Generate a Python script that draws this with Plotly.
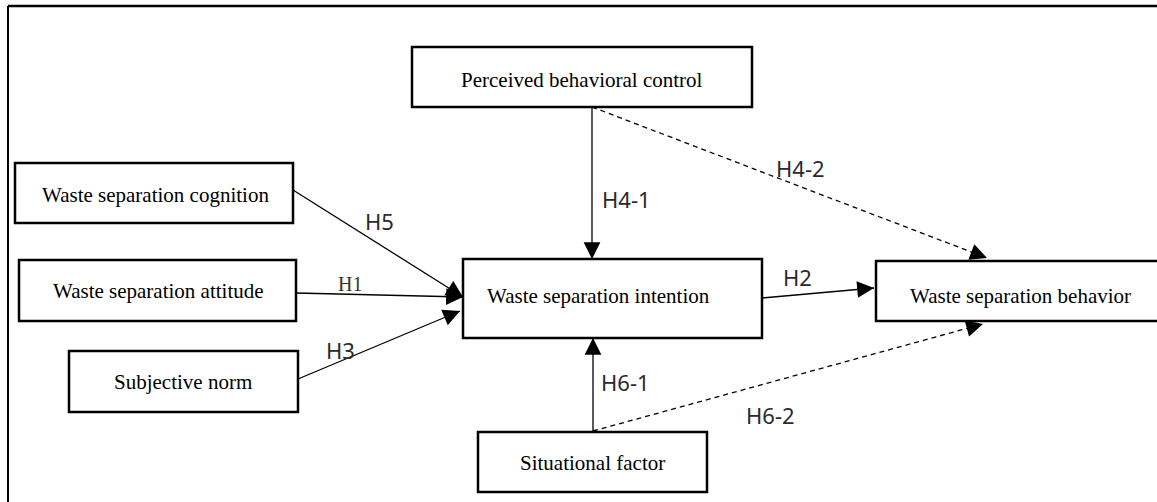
import math
import plotly.graph_objects as go

W, H = 1157, 502

# ---- nodes (box bounds in page pixels) ----
node_names = ["Perceived behavioral control", "Waste separation cognition",
              "Waste separation attitude", "Subjective norm",
              "Waste separation intention", "Situational factor",
              "Waste separation behavior"]
node_x0 = [412, 15, 19, 69, 463, 478, 876]
node_x1 = [752, 293, 296, 298, 762, 707, 1165]
node_y0 = [47, 163, 260, 351, 259, 432, 261]
node_y1 = [107, 223, 321, 412, 338, 492, 321]
text_x = [582, 155, 158, 183, 598, 592, 1020]
text_y = [80, 195, 291, 382, 296, 463, 296]

# ---- edges ----
edge_labels = ["H5", "H1", "H3", "H4-1", "H4-2", "H2", "H6-1", "H6-2"]
edge_x0 = [293, 296, 298, 592, 592, 762, 593, 593]
edge_y0 = [190, 293, 379, 107, 107, 298, 432, 431]
edge_x1 = [463, 463, 460, 592, 987, 874, 593, 983]
edge_y1 = [297, 297, 311, 259, 258, 288, 338, 324]
edge_dashed = [False, False, False, False, True, False, False, True]
label_x = [379, 350, 340, 626, 800, 797, 625, 770]
label_y = [221, 284, 350, 199, 168, 277, 382, 415]

fig = go.Figure()

# frame (top and left lines)
fig.add_shape(type="line", x0=8, y0=6, x1=W + 10, y1=6, line=dict(color="black", width=2.5))
fig.add_shape(type="line", x0=8, y0=6, x1=8, y1=H + 10, line=dict(color="black", width=2))

# boxes and node text
for name, x0, x1, y0, y1, tx, ty in zip(node_names, node_x0, node_x1, node_y0, node_y1, text_x, text_y):
    fig.add_shape(type="rect", x0=x0, x1=x1, y0=y0, y1=y1,
                  line=dict(color="black", width=2.5), fillcolor="white")
    fig.add_annotation(x=tx, y=ty, text=name, showarrow=False,
                       font=dict(family="Liberation Serif", size=21, color="black"))

# edges
for lab, x0, y0, x1, y1, dashed, lx, ly in zip(edge_labels, edge_x0, edge_y0, edge_x1, edge_y1,
                                               edge_dashed, label_x, label_y):
    fig.add_trace(go.Scatter(x=[x0, x1], y=[y0, y1], mode="lines",
                             line=dict(color="black", width=1.3,
                                       dash="5px,4px" if dashed else "solid"),
                             hoverinfo="skip", showlegend=False))
    L = math.hypot(x1 - x0, y1 - y0)
    back = 18.0
    ax = x1 - (x1 - x0) / L * back
    ay = y1 - (y1 - y0) / L * back
    fig.add_annotation(x=x1, y=y1, ax=ax, ay=ay, xref="x", yref="y", axref="x", ayref="y",
                       text="", showarrow=True, arrowhead=2, arrowsize=2.8, arrowwidth=1.2,
                       arrowcolor="black")
    if lab == "H1":
        fnt = dict(family="Liberation Serif", size=20, color="#333333")
    else:
        fnt = dict(family="Noto Sans", size=22, color="#2a2a2a")
    fig.add_annotation(x=lx, y=ly, text=lab, showarrow=False, font=fnt)

fig.update_layout(
    width=W, height=H,
    margin=dict(l=0, r=0, t=0, b=0, pad=0),
    paper_bgcolor="white", plot_bgcolor="white",
    xaxis=dict(range=[0, W], visible=False, fixedrange=True),
    yaxis=dict(range=[H, 0], visible=False, fixedrange=True),
    showlegend=False,
)

fig.write_html("out.html",
               config={"displayModeBar": False, "staticPlot": True},
               post_script="document.body.style.margin='0';document.body.style.overflow='hidden';")
